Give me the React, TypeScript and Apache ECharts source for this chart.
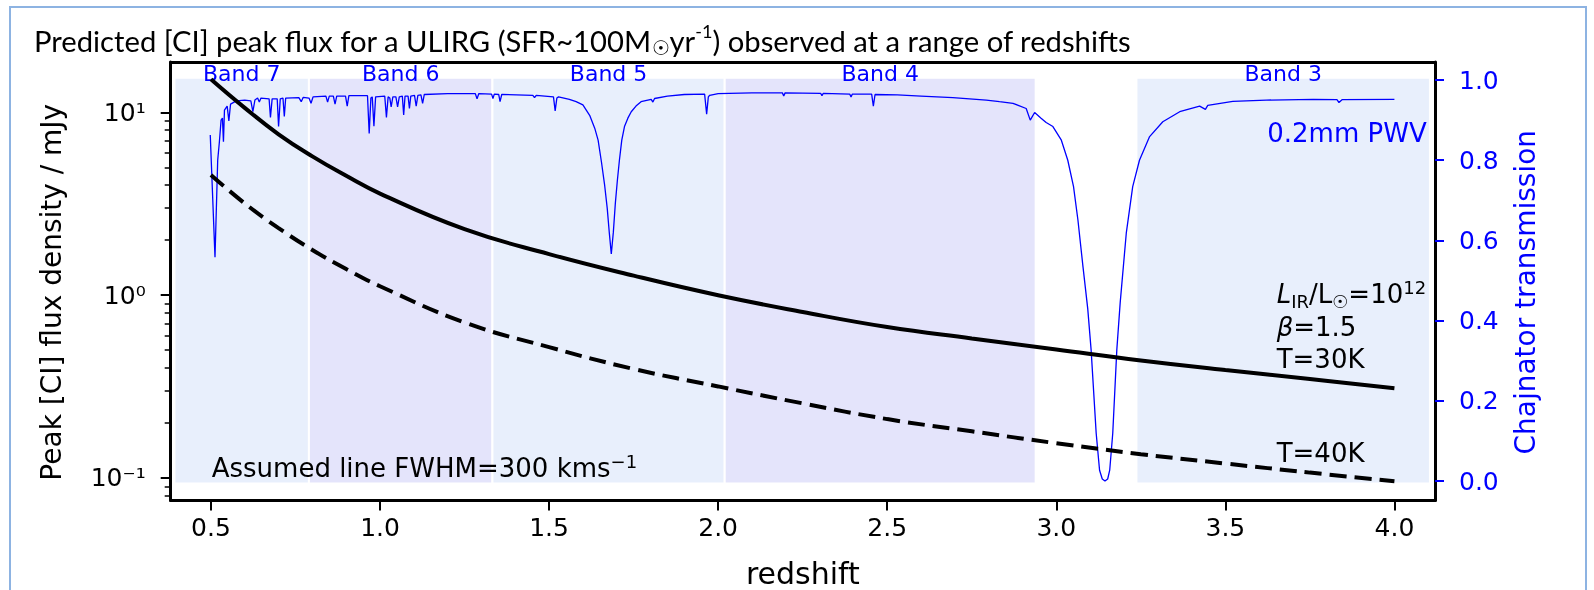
import React, { useEffect, useRef } from "react";
import * as echarts from "echarts";

// ---------- data ----------
const xTicks = [0.5, 1.0, 1.5, 2.0, 2.5, 3.0, 3.5, 4.0];
const leftMajorTicks = [0.1, 1, 10];
const leftMinorTicks = [0.08, 0.09, 0.2, 0.3, 0.4, 0.5, 0.6, 0.7, 0.8, 0.9, 2, 3, 4, 5, 6, 7, 8, 9];
const rightTicks = [0, 0.2, 0.4, 0.6, 0.8, 1.0];

const redshift = [0.5, 0.6, 0.7, 0.8, 0.9, 1.0, 1.25, 1.5, 1.75, 2.0, 2.25, 2.5, 2.75, 3.0, 3.25, 3.5, 3.75, 4.0];
const fluxT30 = [15.2, 10.6, 7.6, 5.75, 4.5, 3.6, 2.3, 1.68, 1.28, 1.0, 0.81, 0.67, 0.58, 0.505, 0.44, 0.39, 0.348, 0.31];
const fluxT40 = [4.55, 3.18, 2.33, 1.77, 1.39, 1.12, 0.71, 0.52, 0.395, 0.317, 0.256, 0.21, 0.18, 0.155, 0.135, 0.12, 0.107, 0.096];

const transZ = [
  0.498, 0.512, 0.52, 0.525, 0.53, 0.534, 0.537, 0.54, 0.548, 0.553, 0.558, 0.575, 0.6, 0.618, 0.624, 0.63,
  0.638, 0.643, 0.648, 0.672, 0.676, 0.681, 0.696, 0.7, 0.705, 0.713, 0.717, 0.721, 0.76, 0.767, 0.773, 0.79,
  0.796, 0.802, 0.84, 0.845, 0.85, 0.862, 0.867, 0.872, 0.898, 0.903, 0.908, 0.963, 0.968, 0.973, 0.977, 0.982,
  0.987, 1.014, 1.019, 1.024, 1.029, 1.033, 1.038, 1.047, 1.052, 1.057, 1.066, 1.07, 1.074, 1.083, 1.087, 1.091,
  1.102, 1.107, 1.112, 1.121, 1.126, 1.131, 1.2, 1.282, 1.287, 1.292, 1.33, 1.334, 1.338, 1.351, 1.355, 1.36,
  1.452, 1.457, 1.462, 1.513, 1.518, 1.523, 1.528, 1.56, 1.58, 1.6, 1.62, 1.635, 1.645, 1.655, 1.664, 1.672,
  1.678, 1.684, 1.69, 1.696, 1.702, 1.708, 1.715, 1.723, 1.733, 1.743, 1.757, 1.772, 1.802, 1.807, 1.812, 1.85,
  1.9, 1.96, 1.966, 1.971, 1.975, 2.0, 2.1, 2.19, 2.194, 2.198, 2.303, 2.307, 2.311, 2.389, 2.393, 2.397,
  2.454, 2.459, 2.464, 2.53, 2.6, 2.694, 2.793, 2.832, 2.872, 2.911, 2.923, 2.936, 2.955, 2.97, 2.99, 3.015,
  3.034, 3.051, 3.064, 3.079, 3.093, 3.103, 3.118, 3.128, 3.136, 3.144, 3.152, 3.158, 3.167, 3.179, 3.189, 3.207,
  3.226, 3.246, 3.276, 3.315, 3.365, 3.424, 3.441, 3.448, 3.522, 3.621, 3.76, 3.83, 3.836, 3.845, 4.0,
];
const transT = [
  0.863, 0.558, 0.8, 0.846, 0.9, 0.905, 0.846, 0.925, 0.935, 0.898, 0.94, 0.948, 0.95, 0.948, 0.921, 0.95,
  0.955, 0.945, 0.955, 0.953, 0.907, 0.953, 0.953, 0.884, 0.953, 0.955, 0.909, 0.955, 0.956, 0.946, 0.957, 0.955,
  0.942, 0.958, 0.96, 0.945, 0.96, 0.96, 0.94, 0.96, 0.96, 0.935, 0.961, 0.961, 0.867, 0.955, 0.958, 0.885,
  0.958, 0.96, 0.907, 0.958, 0.955, 0.933, 0.958, 0.958, 0.933, 0.958, 0.96, 0.913, 0.96, 0.96, 0.929, 0.96,
  0.962, 0.935, 0.962, 0.963, 0.942, 0.964, 0.966, 0.966, 0.953, 0.966, 0.965, 0.954, 0.965, 0.964, 0.946, 0.964,
  0.962, 0.956, 0.962, 0.958, 0.923, 0.955, 0.958, 0.952, 0.946, 0.938, 0.912, 0.88, 0.85, 0.795, 0.74, 0.68,
  0.62, 0.566, 0.62, 0.693, 0.75, 0.8, 0.85, 0.884, 0.905, 0.921, 0.935, 0.946, 0.952, 0.945, 0.954, 0.96,
  0.964, 0.965, 0.915, 0.958, 0.962, 0.966, 0.968, 0.968, 0.96, 0.968, 0.967, 0.961, 0.967, 0.965, 0.958, 0.965,
  0.965, 0.935, 0.964, 0.963, 0.96, 0.956, 0.95, 0.946, 0.942, 0.929, 0.9, 0.919, 0.905, 0.894, 0.884, 0.85,
  0.8, 0.734, 0.651, 0.534, 0.43, 0.327, 0.119, 0.027, 0.005, 0.0, 0.005, 0.027, 0.119, 0.327, 0.445, 0.618,
  0.734, 0.8, 0.859, 0.896, 0.921, 0.935, 0.927, 0.937, 0.947, 0.95, 0.952, 0.951, 0.944, 0.951, 0.952,
];

const bandNames = ["Band 7", "Band 6", "Band 5", "Band 4", "Band 3"];
const bandStart = [0.392, 0.7897, 1.3325, 2.0194, 3.237];
const bandEnd = [0.7897, 1.3325, 2.0194, 2.939, 4.105];
const bandColors = ["#e8effc", "#e4e4fb", "#e8effc", "#e4e4fb", "#e8effc"];

const SUP: Record<string, string> = { "-1": "⁻¹", "0": "⁰", "1": "¹" };

function measure(text: string, size: number, family: string): number {
  const c = document.createElement("canvas").getContext("2d");
  if (!c) return text.length * size * 0.5;
  c.font = `${size}px ${family}`;
  return c.measureText(text).width;
}

export default function App() {
  const ref = useRef<HTMLDivElement>(null);
  useEffect(() => {
    if (!ref.current) return;
    const chart = echarts.init(ref.current, null, { renderer: "svg" });
    const dv = "DejaVu Sans";
    const blue = "#0000ff";
    const xMin = 0.381, xMax = 4.12;
    const yLogMin = 0.0753, yLogMax = 18.89;
    const tMin = -0.0486, tMax = 1.045;

    // fit the title to the reference width
    const titleFont = "Lato";
    const baseSize = 28;
    const wMain =
      measure("Predicted [CI] peak flux for a ULIRG (SFR~100M", baseSize, titleFont) +
      measure("yr) observed at a range of redshifts", baseSize, titleFont) +
      measure("☉", baseSize * 0.68, dv) +
      measure("-1", baseSize * 0.62, titleFont);
    const titleSize = Math.max(18, Math.min(40, (baseSize * 1097) / wMain));

    const option: any = {
      animation: false,
      textStyle: { fontFamily: dv },
      grid: { left: 170.7, right: 159, top: 62, bottom: 89.5, containLabel: false, outerBoundsMode: "none" },
      xAxis: [
        {
          type: "value", min: xMin, max: xMax, position: "bottom",
          axisLine: { show: true, onZero: false, lineStyle: { color: "#000", width: 3 } },
          axisTick: { show: true, length: 10, lineStyle: { color: "#000", width: 2 }, customValues: xTicks },
          axisLabel: { customValues: xTicks, formatter: (v: number) => v.toFixed(1), fontSize: 25, color: "#000", margin: 14, fontFamily: dv },
          splitLine: { show: false },
          name: "redshift", nameLocation: "middle", nameGap: 58,
          nameTextStyle: { fontSize: 30, color: "#000", fontFamily: dv },
        },
        {
          type: "value", min: xMin, max: xMax, position: "top",
          axisLine: { show: true, onZero: false, lineStyle: { color: "#000", width: 3 } },
          axisTick: { show: false }, axisLabel: { show: false }, splitLine: { show: false },
        },
      ],
      yAxis: [
        {
          type: "log", logBase: 10, min: yLogMin, max: yLogMax, position: "left",
          axisLine: { show: true, onZero: false, lineStyle: { color: "#000", width: 3 } },
          axisTick: { show: true, length: 10, lineStyle: { color: "#000", width: 2 }, customValues: leftMajorTicks },
          axisLabel: {
            customValues: leftMajorTicks,
            formatter: (v: number) => "10" + SUP[String(Math.round(Math.log10(v)))],
            fontSize: 25, color: "#000", margin: 25, fontFamily: dv,
          },
          minorTick: { show: false }, splitLine: { show: false },
          name: "Peak [CI] flux density / mJy", nameLocation: "middle", nameGap: 105,
          nameTextStyle: { fontSize: 28, color: "#000", fontFamily: dv, padding: [0, 22, 0, 0] },
        },
        {
          type: "log", logBase: 10, min: yLogMin, max: yLogMax, position: "left",
          axisLine: { show: false },
          axisTick: { show: true, length: 6, lineStyle: { color: "#000", width: 1.5 }, customValues: leftMinorTicks },
          axisLabel: { show: false }, splitLine: { show: false }, minorTick: { show: false },
        },
        {
          type: "value", min: tMin, max: tMax, position: "right",
          axisLine: { show: true, onZero: false, lineStyle: { color: "#000", width: 3 } },
          axisTick: { show: true, length: 9, lineStyle: { color: blue, width: 2 }, customValues: rightTicks },
          axisLabel: { customValues: rightTicks, formatter: (v: number) => v.toFixed(1), fontSize: 25, color: blue, margin: 24, fontFamily: dv },
          splitLine: { show: false },
          name: "Chajnator transmission", nameLocation: "middle", nameGap: 76,
          nameTextStyle: { fontSize: 28, color: blue, fontFamily: dv, padding: [0, 22, 0, 0] },
        },
      ],
      series: [
        {
          type: "line", name: "transmission", xAxisIndex: 0, yAxisIndex: 2,
          data: transZ.map((z, i) => [z, transT[i]]),
          showSymbol: false, symbol: "none", silent: true, z: 2,
          lineStyle: { color: blue, width: 1.3 },
          markArea: {
            silent: true,
            itemStyle: { borderColor: "#ffffff", borderWidth: 2 },
            label: { show: true, position: "top", distance: -8, color: blue, fontSize: 22, fontFamily: dv },
            data: bandNames.map((n, i) => [
              { name: n, xAxis: bandStart[i], yAxis: -0.006, itemStyle: { color: bandColors[i] } },
              { xAxis: bandEnd[i], yAxis: 1.006 },
            ]),
          },
        },
        {
          type: "line", name: "T=30K", xAxisIndex: 0, yAxisIndex: 0,
          data: redshift.map((z, i) => [z, fluxT30[i]]),
          showSymbol: false, symbol: "none", silent: true, z: 3, smooth: 0.45,
          lineStyle: { color: "#000", width: 4 },
        },
        {
          type: "line", name: "T=40K", xAxisIndex: 0, yAxisIndex: 0,
          data: redshift.map((z, i) => [z, fluxT40[i]]),
          showSymbol: false, symbol: "none", silent: true, z: 3, smooth: 0.45,
          lineStyle: { color: "#000", width: 4, type: [17, 8] },
        },
      ],
      graphic: [
        {
          type: "rect", silent: true, z: -10,
          shape: { x: 10, y: 7, width: 1576, height: 640 },
          style: { fill: "none", stroke: "#8db3e2", lineWidth: 2 },
        },
        {
          type: "text", x: 34, y: 40.5, z: 100, silent: true,
          style: {
            text: "Predicted [CI] peak flux for a ULIRG (SFR~100M{sub|☉}yr{sup|-1}) observed at a range of redshifts",
            fontSize: titleSize, fontFamily: titleFont, fill: "#000", lineHeight: titleSize * 1.25,
            align: "left", verticalAlign: "middle",
            rich: {
              sub: { fontSize: titleSize * 0.68, fontFamily: dv, fill: "#000", lineHeight: titleSize * 0.68, verticalAlign: "bottom" },
              sup: { fontSize: titleSize * 0.62, fontFamily: titleFont, fill: "#000", lineHeight: titleSize * 0.62, verticalAlign: "top" },
            },
          },
        },
        {
          type: "text", x: 1426.7, y: 133, z: 100, silent: true,
          style: { text: "0.2mm PWV", fontSize: 26, fontFamily: dv, fill: blue, align: "right", verticalAlign: "middle" },
        },
        {
          type: "text", x: 1276.7, y: 294.3, z: 100, silent: true,
          style: {
            text: "{it|L}{sub|IR}/L{sub|☉}=10{sup|12}",
            fontSize: 26, fontFamily: dv, fill: "#000", lineHeight: 32, align: "left", verticalAlign: "middle",
            rich: {
              it: { fontSize: 26, fontFamily: dv, fontStyle: "italic", fill: "#000" },
              sub: { fontSize: 18, fontFamily: dv, fill: "#000", lineHeight: 18, verticalAlign: "bottom" },
              sup: { fontSize: 18, fontFamily: dv, fill: "#000", lineHeight: 18, verticalAlign: "top" },
            },
          },
        },
        {
          type: "text", x: 1276.7, y: 327.3, z: 100, silent: true,
          style: {
            text: "{it|β}=1.5", fontSize: 26, fontFamily: dv, fill: "#000", align: "left", verticalAlign: "middle",
            rich: { it: { fontSize: 26, fontFamily: dv, fontStyle: "italic", fill: "#000" } },
          },
        },
        {
          type: "text", x: 1276.7, y: 359, z: 100, silent: true,
          style: { text: "T=30K", fontSize: 26, fontFamily: dv, fill: "#000", align: "left", verticalAlign: "middle" },
        },
        {
          type: "text", x: 1276.7, y: 453.3, z: 100, silent: true,
          style: { text: "T=40K", fontSize: 26, fontFamily: dv, fill: "#000", align: "left", verticalAlign: "middle" },
        },
        {
          type: "text", x: 211.7, y: 468.3, z: 100, silent: true,
          style: {
            text: "Assumed line FWHM=300 kms{sup|−1}",
            fontSize: 26, fontFamily: dv, fill: "#000", lineHeight: 32, align: "left", verticalAlign: "middle",
            rich: { sup: { fontSize: 18, fontFamily: dv, fill: "#000", lineHeight: 18, verticalAlign: "top" } },
          },
        },
      ],
    };
    chart.setOption(option);
    return () => chart.dispose();
  }, []);
  return <div ref={ref} style={{ position: "fixed", left: 0, top: 0, width: 1594, height: 590 }} />;
}
